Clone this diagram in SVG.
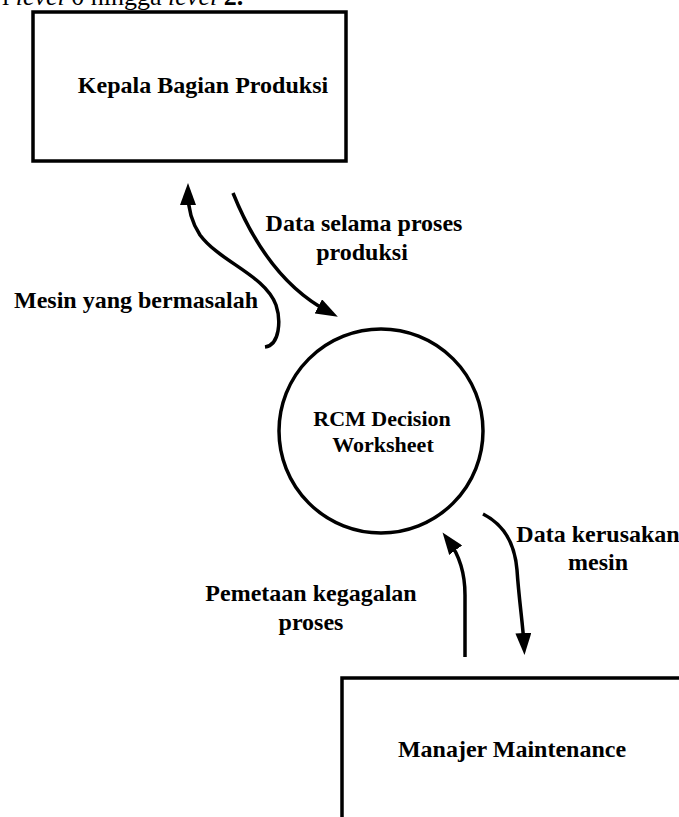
<svg xmlns="http://www.w3.org/2000/svg" width="679" height="817" viewBox="0 0 679 817">
  <style>
    .box { fill: #ffffff; stroke: #000000; stroke-width: 3.5; }
    .proc { fill: #ffffff; stroke: #000000; stroke-width: 3.5; }
    .flow { fill: none; stroke: #000000; stroke-width: 3.5; }
    .lbl { font-family: "Liberation Serif", "Times New Roman", serif; font-weight: bold; font-size: 24px; fill: #000000; text-anchor: middle; }
    .plbl { font-family: "Liberation Serif", "Times New Roman", serif; font-weight: bold; font-size: 22px; fill: #000000; text-anchor: middle; }
    .top { font-family: "Liberation Serif", "Times New Roman", serif; font-size: 26px; fill: #000000; }
  </style>
  <defs>
    <marker id="arrow" markerUnits="userSpaceOnUse" markerWidth="22" markerHeight="16" refX="12" refY="8" orient="auto">
      <path d="M0,0 L22,8 L0,16 z" fill="#000000"/>
    </marker>
  </defs>
  <rect width="679" height="817" fill="#ffffff"/>
  <text class="top" x="2" y="5">i <tspan font-style="italic">level</tspan> 0 hingga <tspan font-style="italic">level</tspan> <tspan font-weight="bold">2.</tspan></text>

  <g id="kepala-bagian-produksi">
    <rect class="box" x="33" y="12" width="313" height="149"/>
    <text class="lbl" x="203" y="93">Kepala Bagian Produksi</text>
  </g>

  <g id="rcm-decision-worksheet">
    <circle class="proc" cx="381" cy="431" r="102"/>
    <text class="plbl" x="382" y="426">RCM Decision</text>
    <text class="plbl" x="383" y="452">Worksheet</text>
  </g>

  <g id="manajer-maintenance">
    <rect class="box" x="342" y="678" width="360" height="160"/>
    <text class="lbl" x="512" y="757">Manajer Maintenance</text>
  </g>

  <g id="connectors">
    <path class="flow" marker-end="url(#arrow)" d="M265,347 C280,345 281,320 276,305 C265,275 220,262 200,235 C190,220 188,205 188,193"/>
    <path class="flow" marker-end="url(#arrow)" d="M233,193 Q268,280 329,312"/>
    <path class="flow" marker-end="url(#arrow)" d="M465,657 L465,595 C465,570 457,552 448.5,540.5"/>
    <path class="flow" marker-end="url(#arrow)" d="M483,514 C505,525 515,545 517,570 C519,600 523,625 524,645"/>
  </g>

  <g id="labels">
    <text class="lbl" x="364" y="231">Data selama proses</text>
    <text class="lbl" x="362" y="260">produksi</text>
    <text class="lbl" x="136" y="308">Mesin yang bermasalah</text>
    <text class="lbl" x="598" y="542">Data kerusakan</text>
    <text class="lbl" x="598" y="570">mesin</text>
    <text class="lbl" x="311" y="601">Pemetaan kegagalan</text>
    <text class="lbl" x="311" y="630">proses</text>
  </g>
</svg>
